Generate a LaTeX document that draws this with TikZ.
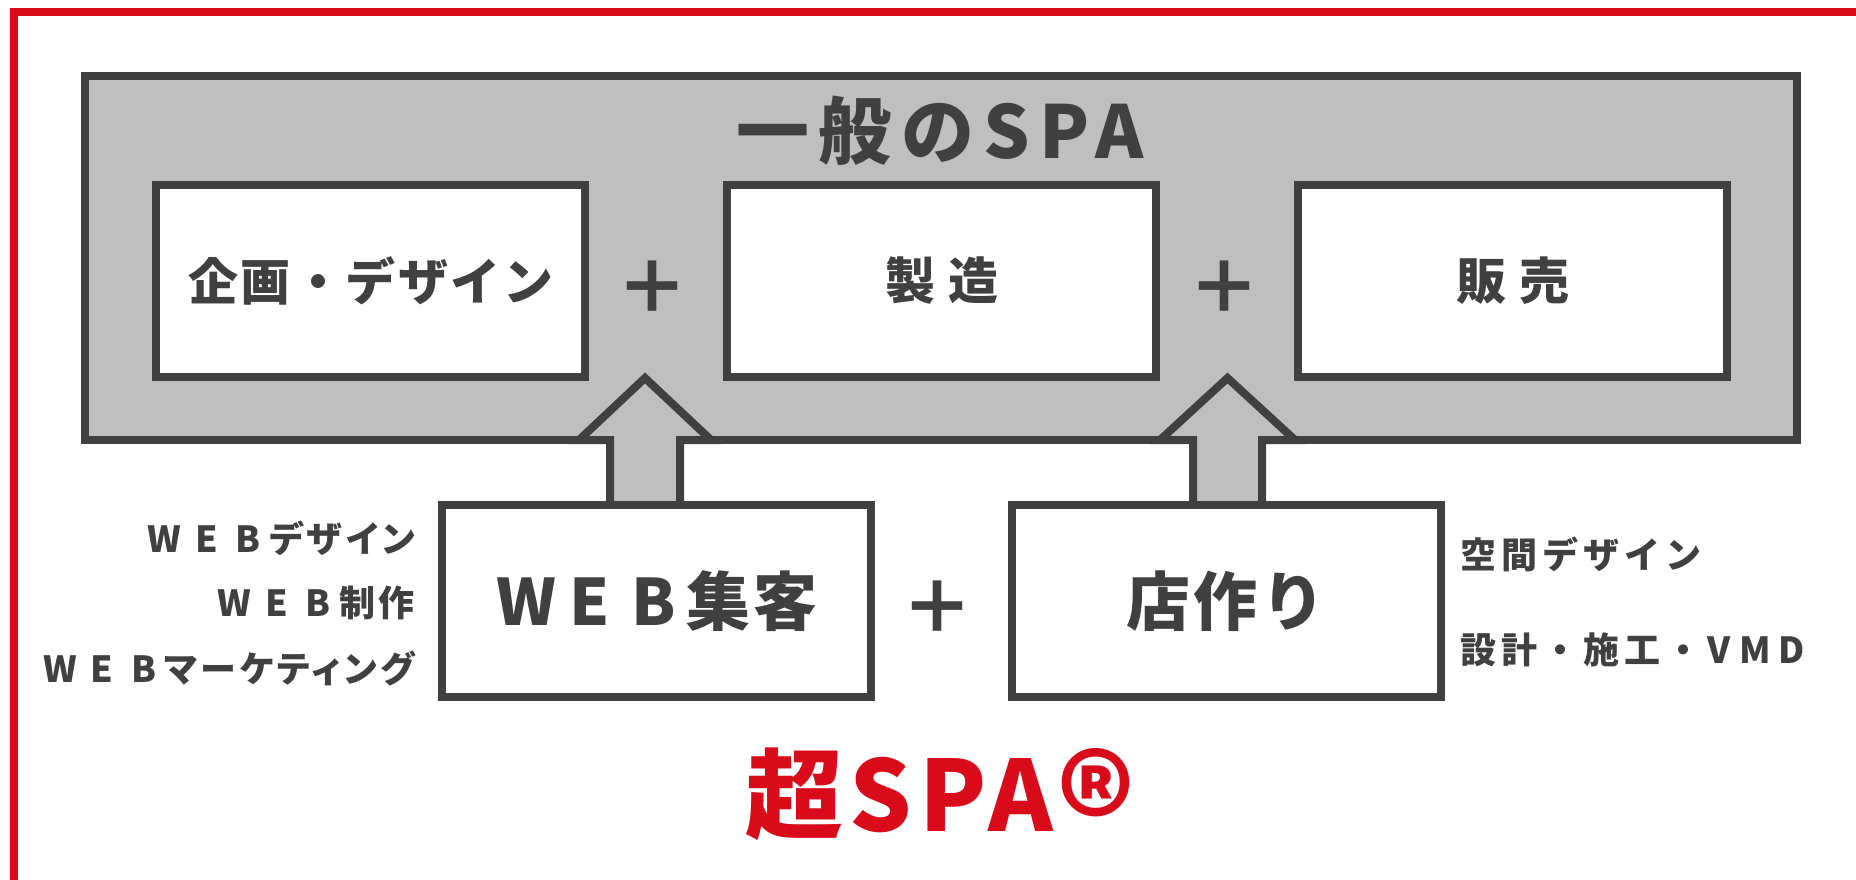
\documentclass[tikz,border=0pt]{standalone}
\usepackage{fontspec}
\newfontfamily\jp{Noto Sans CJK JP}
\definecolor{dk}{HTML}{404040}
\definecolor{gr}{HTML}{BFBFBF}
\definecolor{rd}{HTML}{D90B1A}
\newcommand\fwc[1]{\makebox[1em][c]{#1}}
\newcommand\fwl[1]{\makebox[1.16em][c]{#1}}
\tikzset{
  redframe/.style={draw=rd, line width=8pt},
  panel/.style={draw=dk, fill=gr, line width=8pt, inner sep=0pt},
  wbox/.style={draw=dk, fill=white, line width=8pt, inner sep=0pt, minimum width=429pt, minimum height=192pt, text=dk},
  blockarrow/.style={draw=dk, fill=gr, line width=8pt, line join=miter},
  txt/.style={text=dk, inner sep=0pt},
  plus/.style={txt, font=\jp\bfseries\fontsize{72}{80}\selectfont},
}
\begin{document}
\begin{tikzpicture}[x=1pt,y=-1pt]
\useasboundingbox (0,0) rectangle (1856,880);
\clip (0,0) rectangle (1856,880);
\jp\bfseries
% red frame
\draw[redframe] (14,1000) -- (14,12) -- (2000,12);
% grey panel
\node[panel, minimum width=1712pt, minimum height=364pt] (spa) at (941,258) {};
\node[txt, font=\jp\bfseries\fontsize{73}{80}\selectfont\addfontfeatures{LetterSpace=13}] (title) at (940,131) {一般のSPA};
% top boxes
\node[wbox, font=\jp\bfseries\fontsize{50}{56}\selectfont\addfontfeatures{LetterSpace=5}] (plan) at (370.5,281) {企画・デザイン};
\node[wbox, font=\jp\bfseries\fontsize{50}{56}\selectfont\addfontfeatures{LetterSpace=26}] (make) at (941.5,281) {製造};
\node[wbox, font=\jp\bfseries\fontsize{50}{56}\selectfont\addfontfeatures{LetterSpace=26}] (sell) at (1512.5,281) {販売};
\node[plus] (p1) at (652,287) {＋};
\node[plus] (p2) at (1224,287) {＋};
% block arrows
\filldraw[blockarrow] (610,505) -- (610,440) -- (579,440) -- (645,378) -- (711,440) -- (680,440) -- (680,505) -- cycle;
\filldraw[blockarrow] (1193,505) -- (1193,440) -- (1160,440) -- (1227.5,378) -- (1295,440) -- (1262,440) -- (1262,505) -- cycle;
% bottom boxes
\node[wbox, font=\jp\bfseries\fontsize{64}{72}\selectfont\addfontfeatures{LetterSpace=6}] (web) at (656,601) {\fwc{W}\fwc{E}\fwc{B}集客};
\node[wbox, font=\jp\bfseries\fontsize{64}{72}\selectfont\addfontfeatures{LetterSpace=6}] (shop) at (1226,601) {店作り};
\node[plus] (p3) at (937,607) {＋};
% side texts
\begin{scope}[every node/.style={txt, font=\jp\bfseries\fontsize{36}{40}\selectfont\addfontfeatures{LetterSpace=10, RawFeature=+palt}}]
\node[anchor=east] (l1) at (415,538) {\fwl{W}\fwl{E}\fwl{B}デザイン};
\node[anchor=east] (l2) at (415,603) {\fwl{W}\fwl{E}\fwl{B}制作};
\node[anchor=east] (l3) at (415,668) {\fwl{W}\fwl{E}\fwl{B}マーケティング};
\end{scope}
\begin{scope}[every node/.style={txt, font=\jp\bfseries\fontsize{36}{40}\selectfont\addfontfeatures{LetterSpace=14}}]
\node[anchor=west] (r1) at (1460,554) {空間デザイン};
\node[anchor=west] (r2) at (1460,650) {設計・施工・\fwc{V}\fwc{M}\fwc{D}};
\end{scope}
% super SPA
\node[inner sep=0pt, text=rd, anchor=base west, font=\jp\bfseries\fontsize{98}{100}\selectfont\addfontfeatures{LetterSpace=7}] (super) at (745,831) {超SPA\hspace{4pt}\raisebox{-38pt}{\fontsize{148}{148}\selectfont ®}};
\end{tikzpicture}
\end{document}
